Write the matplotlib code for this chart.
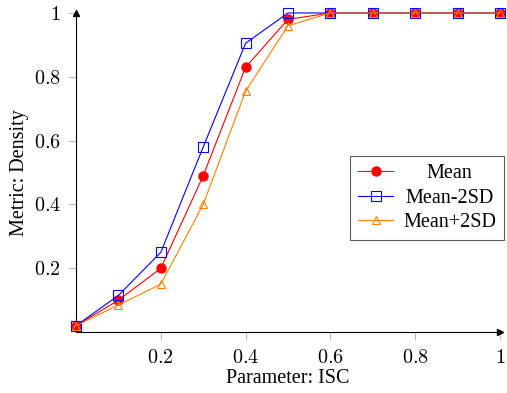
import matplotlib
matplotlib.use("Agg")
import matplotlib.pyplot as plt

x = [0.0, 0.1, 0.2, 0.3, 0.4, 0.5, 0.6, 0.7, 0.8, 0.9, 1.0]
mean = [0.02, 0.10, 0.20, 0.49, 0.83, 0.98, 1.0, 1.0, 1.0, 1.0, 1.0]
mean_m2sd = [0.02, 0.115, 0.25, 0.58, 0.905, 1.0, 1.0, 1.0, 1.0, 1.0, 1.0]
mean_p2sd = [0.02, 0.085, 0.15, 0.40, 0.755, 0.96, 1.0, 1.0, 1.0, 1.0, 1.0]
ticks = [0.2, 0.4, 0.6, 0.8, 1.0]
tick_labels = ["0.2", "0.4", "0.6", "0.8", "1"]

plt.rcParams["mathtext.fontset"] = "cm"
plt.rcParams["font.family"] = ["Liberation Serif", "DejaVu Serif"]

fig = plt.figure(figsize=(5.07, 3.93), dpi=100)
ax = fig.add_axes([0.150, 0.155, 0.836, 0.812])

ax.plot(x, mean, color="#ff0000", lw=0.8, marker="o", ms=6.5,
        mfc="#ff0000", mec="#ff0000", label="Mean", clip_on=False, zorder=3)
ax.plot(x, mean_m2sd, color="#0000ff", lw=0.8, marker="s", ms=6.5,
        mfc="none", mec="#0000ff", mew=0.8, label="Mean-2SD", clip_on=False, zorder=4)
ax.plot(x, mean_p2sd, color="#ff8000", lw=0.8, marker="^", ms=6,
        mfc="none", mec="#ff8000", mew=0.8, label="Mean+2SD", clip_on=False, zorder=5)

ax.set_xlim(0, 1)
ax.set_ylim(0, 1)
ax.spines["top"].set_visible(False)
ax.spines["right"].set_visible(False)
ax.spines["left"].set_linewidth(0.8)
ax.spines["bottom"].set_linewidth(0.8)
ax.plot(1, 0, ">k", ms=4, transform=ax.get_yaxis_transform(), clip_on=False)
ax.plot(0, 1, "^k", ms=4, transform=ax.get_xaxis_transform(), clip_on=False)

ax.set_xticks(ticks)
ax.set_xticklabels(["$%s$" % t for t in tick_labels])
ax.set_yticks(ticks)
ax.set_yticklabels(["$%s$" % t for t in tick_labels])
ax.tick_params(direction="out", length=6, width=0.6, color="#b0b0b0",
               labelsize=14.5)
ax.tick_params(axis="x", pad=6)
ax.tick_params(axis="y", pad=5)

ax.set_xlabel("Parameter: ISC", fontsize=14.5, labelpad=1)
ax.set_ylabel("Metric: Density", fontsize=14.5, labelpad=3)

leg = ax.legend(loc="center right", bbox_to_anchor=(1.01, 0.42), fontsize=14.5,
                frameon=True, fancybox=False, edgecolor="#333333",
                handlelength=1.75, borderpad=0.4, labelspacing=0.25,
                handletextpad=0.5, borderaxespad=0)
leg.get_frame().set_linewidth(0.8)

fig.canvas.draw()
renderer = fig.canvas.get_renderer()
widths = [t.get_window_extent(renderer).width for t in leg.get_texts()]
shift = max(widths)
for t, w in zip(leg.get_texts(), widths):
    t.set_position(((shift - w) / 2, 0))

fig.savefig("out.png", dpi=100)
